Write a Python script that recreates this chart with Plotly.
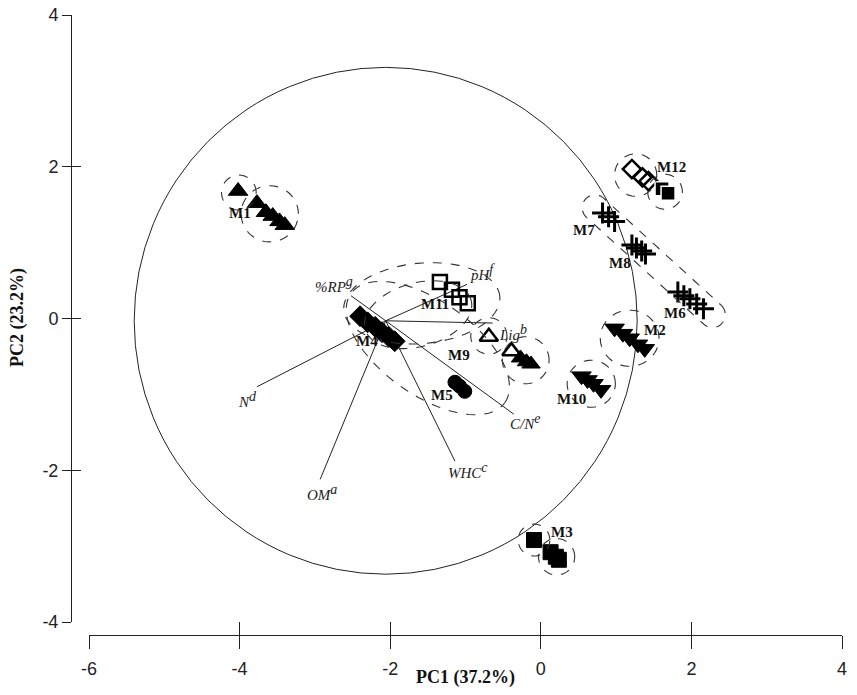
import numpy as np
import plotly.graph_objects as go

# ---------------- data ----------------
m1_x = [-4.02, -3.77, -3.65, -3.56, -3.47, -3.40]
m1_y = [1.68, 1.52, 1.40, 1.35, 1.28, 1.23]
m2_x = [0.98, 1.09, 1.18, 1.29, 1.38]
m2_y = [-0.13, -0.20, -0.26, -0.34, -0.40]
m3_x = [-0.09, 0.13, 0.20, 0.24]
m3_y = [-2.92, -3.08, -3.14, -3.18]
m4_x = [-2.40, -2.30, -2.20, -2.11, -2.02, -1.94]
m4_y = [0.03, -0.05, -0.11, -0.18, -0.24, -0.30]
m5_x = [-1.14, -1.08, -1.01]
m5_y = [-0.84, -0.89, -0.96]
m6_x = [1.82, 1.90, 1.98, 2.07, 2.16]
m6_y = [0.35, 0.30, 0.26, 0.19, 0.13]
m7_x = [0.82, 0.90, 0.98]
m7_y = [1.39, 1.34, 1.28]
m8_x = [1.21, 1.27, 1.34, 1.39]
m8_y = [0.97, 0.93, 0.89, 0.85]
m9_open_x = [-0.69, -0.39]
m9_open_y = [-0.24, -0.43]
m9_fill_x = [-0.27, -0.19, -0.13]
m9_fill_y = [-0.52, -0.57, -0.60]
m10_x = [0.54, 0.62, 0.70, 0.80]
m10_y = [-0.76, -0.81, -0.86, -0.94]
m11_x = [-1.34, -1.18, -1.08, -0.97]
m11_y = [0.48, 0.38, 0.28, 0.20]
m12_open_x = [1.21, 1.35, 1.43]
m12_open_y = [1.97, 1.86, 1.81]
m12_fill_x = [1.61, 1.69]
m12_fill_y = [1.71, 1.65]

group_names = ["M1", "M2", "M3", "M4", "M5", "M6", "M7", "M8", "M9", "M10", "M11", "M12"]
group_label_x = [-4.00, 1.51, 0.28, -2.31, -1.31, 1.78, 0.58, 1.05, -1.08, 0.41, -1.41, 1.74]
group_label_y = [1.39, -0.15, -2.81, -0.30, -1.01, 0.07, 1.17, 0.73, -0.48, -1.06, 0.19, 2.00]

# loading vectors
origin_x, origin_y = -2.06, -0.03
var_names = ["%RP", "pH", "Lig", "N", "OM", "WHC", "C/N"]
var_sups = ["g", "f", "b", "d", "a", "c", "e"]
var_end_x = [-2.52, -0.98, -0.64, -3.77, -2.93, -1.14, -0.36]
var_end_y = [0.30, 0.45, -0.06, -0.90, -2.12, -1.88, -1.26]
var_label_x = [-2.74, -0.78, -0.37, -3.90, -2.91, -0.97, -0.21]
var_label_y = [0.45, 0.61, -0.18, -1.07, -2.29, -2.00, -1.36]

x_tickvals = [-6, -4, -2, 0, 2, 4]
x_ticktext = ["-6", "-4", "-2", "0", "2", "4"]
y_tickvals = [-4, -2, 0, 2, 4]
y_ticktext = ["-4", "-2", "0", "2", "4"]

circle_radius = 3.34

# dashed group outlines: centre x, centre y, radius x, radius y, angle (deg)
ring_cx = [-4.01, -3.60, 1.26, 1.65, 1.18, 0.67, -0.09, 0.21, -0.69, -0.20, -1.58, -1.63, -1.50]
ring_cy = [1.66, 1.38, 1.89, 1.67, -0.26, -0.86, -2.92, -3.14, -0.23, -0.55, 0.20, 0.05, -0.39]
ring_rx = [0.23, 0.38, 0.28, 0.23, 0.39, 0.32, 0.21, 0.24, 0.24, 0.31, 1.04, 0.73, 1.25]
ring_ry = [0.23, 0.37, 0.28, 0.23, 0.37, 0.31, 0.21, 0.24, 0.24, 0.31, 0.53, 0.42, 0.62]
ring_ang = [0, 0, 0, 0, 0, 0, 0, 0, 0, 0, 5, 15, -35]

# stadium around M7, M8, M6
stad_x0, stad_y0, stad_x1, stad_y1, stad_w = 0.72, 1.46, 2.28, 0.05, 0.17

# ---------------- figure ----------------
fig = go.Figure()
BLACK = "black"


def add_pts(x, y, symbol, size=14, fill=BLACK, lw=1, lc=BLACK):
    fig.add_trace(go.Scatter(x=x, y=y, mode="markers", hoverinfo="skip",
                             marker=dict(symbol=symbol, size=size, color=fill,
                                         line=dict(width=lw, color=lc)),
                             xaxis="x", yaxis="y"))


# loading vectors
for ex, ey in zip(var_end_x, var_end_y):
    fig.add_trace(go.Scatter(x=[origin_x, ex], y=[origin_y, ey], mode="lines",
                             line=dict(color="#222", width=1), hoverinfo="skip"))

add_pts(m1_x, m1_y, "triangle-up", 17)
add_pts(m2_x, m2_y, "triangle-down", 17)
add_pts(m3_x, m3_y, "square", 15)
add_pts(m4_x, m4_y, "diamond", 16)
add_pts(m5_x, m5_y, "circle", 14)
add_pts(m6_x, m6_y, "cross-thin-open", 15, lw=3)
add_pts(m7_x, m7_y, "cross-thin-open", 15, lw=3)
add_pts(m8_x, m8_y, "cross-thin-open", 15, lw=3)
add_pts(m9_open_x, m9_open_y, "triangle-up-open", 16, lw=2.5)
add_pts(m9_fill_x, m9_fill_y, "triangle-up", 16)
add_pts(m10_x, m10_y, "triangle-down", 17)
add_pts(m11_x, m11_y, "square-open", 14, lw=2.5)
add_pts(m12_open_x, m12_open_y, "diamond-open", 14, lw=2.5)
add_pts(m12_fill_x, m12_fill_y, "square", 14, lw=1.5, lc="white")

shapes = []
# big correlation circle
shapes.append(dict(type="circle", xref="x", yref="y",
                   x0=origin_x - circle_radius, x1=origin_x + circle_radius,
                   y0=origin_y - circle_radius, y1=origin_y + circle_radius,
                   line=dict(color="#222", width=1), layer="below"))


def ellipse_path(cx, cy, rx, ry, ang, n=80):
    t = np.linspace(0, 2 * np.pi, n)
    a = np.deg2rad(ang)
    xs = cx + rx * np.cos(t) * np.cos(a) - ry * np.sin(t) * np.sin(a)
    ys = cy + rx * np.cos(t) * np.sin(a) + ry * np.sin(t) * np.cos(a)
    return "M " + " L ".join(f"{x:.4f},{y:.4f}" for x, y in zip(xs, ys)) + " Z"


for cx, cy, rx, ry, an in zip(ring_cx, ring_cy, ring_rx, ring_ry, ring_ang):
    shapes.append(dict(type="path", xref="x", yref="y", path=ellipse_path(cx, cy, rx, ry, an),
                       line=dict(color="#333", width=1.1, dash="dash")))

# stadium (rounded rectangle)
dx, dy = stad_x1 - stad_x0, stad_y1 - stad_y0
L = np.hypot(dx, dy)
ux, uy = dx / L, dy / L
base = np.arctan2(uy, ux)
pts = []
for th in np.linspace(base + np.pi / 2, base - np.pi / 2, 20):
    pts.append((stad_x1 + stad_w * np.cos(th), stad_y1 + stad_w * np.sin(th)))
for th in np.linspace(base - np.pi / 2, base - 3 * np.pi / 2, 20):
    pts.append((stad_x0 + stad_w * np.cos(th), stad_y0 + stad_w * np.sin(th)))
spath = "M " + " L ".join(f"{x:.4f},{y:.4f}" for x, y in pts) + " Z"
shapes.append(dict(type="path", xref="x", yref="y", path=spath,
                   line=dict(color="#333", width=1.1, dash="dash")))

W, H = 857, 695
xdom = [89 / W, 842 / W]
ydom = [1 - 622 / H, 1 - 15 / H]
xpos = 1 - 635 / H
ypos = 71 / W

annotations = []
for name, lx, ly in zip(group_names, group_label_x, group_label_y):
    annotations.append(dict(x=lx, y=ly, xref="x", yref="y", text=f"<b>{name}</b>",
                            showarrow=False, font=dict(family="Liberation Serif", size=15, color="#111")))
for name, sup, lx, ly in zip(var_names, var_sups, var_label_x, var_label_y):
    txt = f"<i>{name}</i><sup><i><span style='font-size:14px'>{sup}</span></i></sup>"
    annotations.append(dict(x=lx, y=ly, xref="x", yref="y", text=txt,
                            showarrow=False, font=dict(family="Liberation Serif", size=15, color="#222")))

titlefont = dict(family="Liberation Serif", size=18, color="#111")
annotations.append(dict(x=(xdom[0] + xdom[1]) / 2, y=1 - 677 / H, xref="paper", yref="paper",
                        text="<b>PC1 (37.2%)</b>", showarrow=False, font=titlefont,
                        xanchor="center", yanchor="middle"))
annotations.append(dict(x=17 / W, y=1 - 318 / H, xref="paper", yref="paper",
                        text="<b>PC2 (23.2%)</b>", showarrow=False, font=titlefont,
                        textangle=-90, xanchor="center", yanchor="middle"))

tickfont = dict(family="Liberation Sans", size=18, color="#222")

fig.update_layout(
    width=W, height=H, margin=dict(l=0, r=0, t=0, b=0, autoexpand=False),
    paper_bgcolor="white", plot_bgcolor="white", showlegend=False,
    shapes=shapes, annotations=annotations,
    xaxis=dict(range=[-6, 4], domain=xdom, anchor="free", position=xpos, automargin=False,
               tickvals=x_tickvals, ticktext=x_ticktext, ticks="outside", ticklen=13, tickwidth=1,
               tickcolor="#222", showline=True, linecolor="#222", linewidth=1,
               showgrid=False, zeroline=False, tickfont=tickfont, ticklabelstandoff=4),
    xaxis2=dict(range=[-6, 4], domain=xdom, anchor="free", position=xpos, overlaying="x",
                automargin=False,
                tickvals=x_tickvals, ticks="inside", ticklen=13, tickwidth=1,
                tickcolor="#222", showticklabels=False, showgrid=False, zeroline=False),
    yaxis=dict(range=[-4, 4], domain=ydom, anchor="free", position=ypos, automargin=False,
               tickvals=y_tickvals, ticktext=y_ticktext, ticks="outside", ticklen=9, tickwidth=1,
               tickcolor="#222", showline=True, linecolor="#222", linewidth=1,
               showgrid=False, zeroline=False, tickfont=tickfont),
    yaxis2=dict(range=[-4, 4], domain=ydom, anchor="free", position=ypos, overlaying="y",
                automargin=False,
                tickvals=y_tickvals, ticks="inside", ticklen=9, tickwidth=1,
                tickcolor="#222", showticklabels=False, showgrid=False, zeroline=False),
)
# dummy trace to register the overlay axes
fig.add_trace(go.Scatter(x=[None], y=[None], xaxis="x2", yaxis="y2", hoverinfo="skip"))

fig.write_html("out.html")
